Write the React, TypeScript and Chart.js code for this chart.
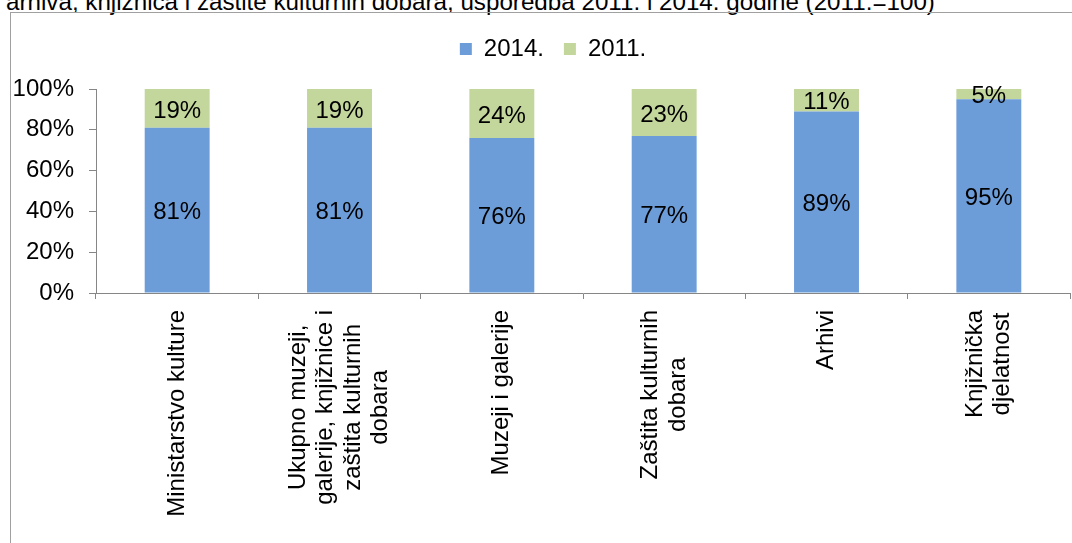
import React, { useEffect, useRef } from "react";
import { Chart, registerables } from "chart.js";

Chart.register(...registerables);

const categories: string[][] = [
  ["Ministarstvo kulture"],
  ["Ukupno muzeji,", "galerije, knjižnice i", "zaštita kulturnih", "dobara"],
  ["Muzeji i galerije"],
  ["Zaštita kulturnih", "dobara"],
  ["Arhivi"],
  ["Knjižnička", "djelatnost"],
];
const seriesNames = ["2014.", "2011."];
const values2014 = [81, 81, 76, 77, 89, 95];
const values2011 = [19, 19, 24, 23, 11, 5];
const yTickValues = [0, 20, 40, 60, 80, 100];
const titleText =
  "arhiva, knjižnica i zaštite kulturnih dobara, usporedba 2011. i 2014. godine (2011.=100)";

const FONT = '"Liberation Sans", Arial, sans-serif';
const FONT_SIZE = 24;
const BLUE = "#6d9dd9";
const GREEN = "#c3d69b";
const AXIS = "#868686";

const labelsPlugin = {
  id: "customLabels",
  afterDatasetsDraw(chart: any) {
    const ctx = chart.ctx;
    ctx.save();
    ctx.font = `${FONT_SIZE}px ${FONT}`;
    ctx.fillStyle = "#000";
    ctx.textAlign = "center";
    ctx.textBaseline = "middle";
    chart.data.datasets.forEach((ds: any, di: number) => {
      const meta = chart.getDatasetMeta(di);
      meta.data.forEach((bar: any, i: number) => {
        const { x, y, base } = bar.getProps(["x", "y", "base"], true);
        ctx.fillText(ds.data[i] + "%", x, (y + base) / 2 + 2.5);
      });
    });
    ctx.restore();
  },
  afterDraw(chart: any) {
    const xScale = chart.scales.x;
    const ctx = chart.ctx;
    ctx.save();
    ctx.font = `${FONT_SIZE}px ${FONT}`;
    ctx.fillStyle = "#000";
    ctx.textAlign = "center";
    ctx.textBaseline = "middle";
    const lh = 27.5;
    const top = chart.chartArea.bottom + 17;
    (chart.data.labels as any[]).forEach((lab: any, i: number) => {
      const lines: string[] = Array.isArray(lab) ? lab : [lab];
      const x = xScale.getPixelForValue(i);
      const wmax = Math.max(...lines.map((l) => ctx.measureText(l).width));
      ctx.save();
      ctx.translate(x, top);
      ctx.rotate(-Math.PI / 2);
      lines.forEach((l, k) => {
        ctx.fillText(l, -wmax / 2, (k - (lines.length - 1) / 2) * lh);
      });
      ctx.restore();
    });
    ctx.restore();
  },
};

export default function App() {
  const ref = useRef<HTMLCanvasElement>(null);
  useEffect(() => {
    const chart = new Chart(ref.current as HTMLCanvasElement, {
      type: "bar",
      data: {
        labels: categories,
        datasets: [
          {
            label: seriesNames[0],
            data: values2014,
            backgroundColor: BLUE,
            borderWidth: 0,
            barPercentage: 0.4,
            categoryPercentage: 1,
          },
          {
            label: seriesNames[1],
            data: values2011,
            backgroundColor: GREEN,
            borderWidth: 0,
            barPercentage: 0.4,
            categoryPercentage: 1,
          },
        ],
      },
      options: {
        responsive: false,
        animation: false,
        devicePixelRatio: 1,
        layout: { padding: { left: 12, right: 0, top: 17, bottom: 0 } },
        plugins: {
          legend: {
            display: true,
            position: "top",
            labels: {
              boxWidth: 12,
              boxHeight: 12,
              padding: 20,
              color: "#000",
              font: { size: FONT_SIZE, family: FONT },
            },
          },
          subtitle: {
            display: true,
            text: "",
            position: "top",
            weight: 500,
            font: { size: 10, lineHeight: 1 },
            padding: { top: 8, bottom: 0 },
          } as any,
          tooltip: { enabled: false },
        },
        scales: {
          x: {
            stacked: true,
            grid: {
              display: true,
              drawOnChartArea: false,
              drawTicks: true,
              tickLength: 6,
              color: AXIS,
            },
            border: { display: true, color: AXIS, width: 1 },
            ticks: { display: false },
            afterFit: (scale: any) => {
              scale.height = 250;
            },
          },
          y: {
            stacked: true,
            min: 0,
            max: 100,
            afterBuildTicks: (scale: any) => {
              scale.ticks = yTickValues.map((v) => ({ value: v }));
            },
            grid: {
              display: true,
              drawOnChartArea: false,
              drawTicks: true,
              tickLength: 7,
              color: AXIS,
            },
            border: { display: true, color: AXIS, width: 1 },
            ticks: {
              padding: 15,
              color: "#000",
              font: { size: FONT_SIZE, family: FONT },
              callback: (v: any) => v + "%",
            },
            afterFit: (scale: any) => {
              scale.width = 84;
            },
          },
          yRight: {
            type: "linear",
            position: "right",
            display: true,
            grid: { display: false },
            border: { display: false },
            ticks: { display: false },
            afterFit: (scale: any) => {
              scale.width = 24;
            },
          },
        },
      },
      plugins: [labelsPlugin],
    });
    return () => chart.destroy();
  }, []);

  return (
    <div
      style={{
        position: "absolute",
        left: 0,
        top: 0,
        width: 1072,
        height: 543,
        overflow: "hidden",
        background: "#fff",
      }}
    >
      <div
        style={{
          position: "absolute",
          left: 6,
          top: -10,
          fontFamily: FONT,
          fontSize: 24.2,
          lineHeight: "24px",
          whiteSpace: "nowrap",
          color: "#000",
        }}
      >
        {titleText}
      </div>
      <div
        style={{
          position: "absolute",
          left: 10,
          top: 12,
          width: 1200,
          height: 700,
          border: "1px solid #a0a0a0",
          boxSizing: "border-box",
        }}
      />
      <canvas
        ref={ref}
        width={1094}
        height={543}
        style={{ position: "absolute", left: 0, top: 0, width: 1094, height: 543 }}
      />
    </div>
  );
}
